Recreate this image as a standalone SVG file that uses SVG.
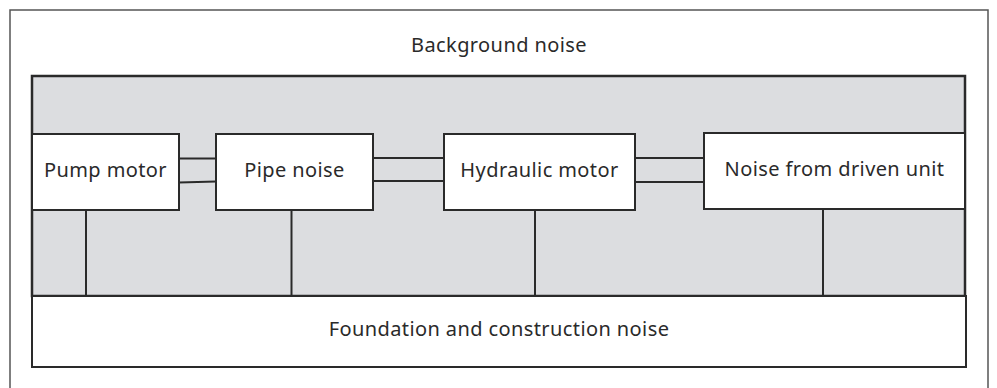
<svg xmlns="http://www.w3.org/2000/svg" width="997" height="388" viewBox="0 0 997 388">
<style>
text{font-family:"Noto Sans","Open Sans",sans-serif;font-size:20px;letter-spacing:0.4px;fill:#2a2a2a;text-anchor:middle}
.box{fill:#fff;stroke:#2a2a2a;stroke-width:2}
.ln{stroke:#2a2a2a;stroke-width:2;fill:none}
</style>
<rect x="0" y="0" width="997" height="388" fill="#fff"/>
<g id="frame">
<path d="M10,392 V10 H988 V392" fill="none" stroke="#555" stroke-width="1.5"/>
<text x="499" y="52">Background noise</text>
</g>
<g id="background">
<rect x="32" y="76" width="933" height="220" fill="#dcdde0" stroke="#2a2a2a" stroke-width="2.5"/>
</g>
<g id="foundation">
<rect class="box" x="32" y="296" width="934" height="71"/>
<text x="499" y="336">Foundation and construction noise</text>
</g>
<g id="connectors">
<line class="ln" x1="179" y1="158.5" x2="216" y2="158.5"/>
<line class="ln" x1="179" y1="182.5" x2="216" y2="181.5"/>
<line class="ln" x1="373" y1="158" x2="444" y2="158"/>
<line class="ln" x1="373" y1="181" x2="444" y2="181"/>
<line class="ln" x1="635" y1="158" x2="704" y2="158"/>
<line class="ln" x1="635" y1="182" x2="704" y2="182"/>
<line class="ln" x1="86" y1="210" x2="86" y2="296"/>
<line class="ln" x1="291.5" y1="210" x2="291.5" y2="296"/>
<line class="ln" x1="535" y1="210" x2="535" y2="296"/>
<line class="ln" x1="823" y1="209" x2="823" y2="296"/>
</g>
<g id="pump">
<rect class="box" x="32" y="134" width="147" height="76"/>
<text x="105.5" y="177">Pump motor</text>
</g>
<g id="pipe">
<rect class="box" x="216" y="134" width="157" height="76"/>
<text x="294.5" y="177">Pipe noise</text>
</g>
<g id="hydraulic">
<rect class="box" x="444" y="134" width="191" height="76"/>
<text x="539.5" y="177">Hydraulic motor</text>
</g>
<g id="driven">
<rect class="box" x="704" y="133" width="261" height="76"/>
<text x="834.5" y="176">Noise from driven unit</text>
</g>
</svg>
